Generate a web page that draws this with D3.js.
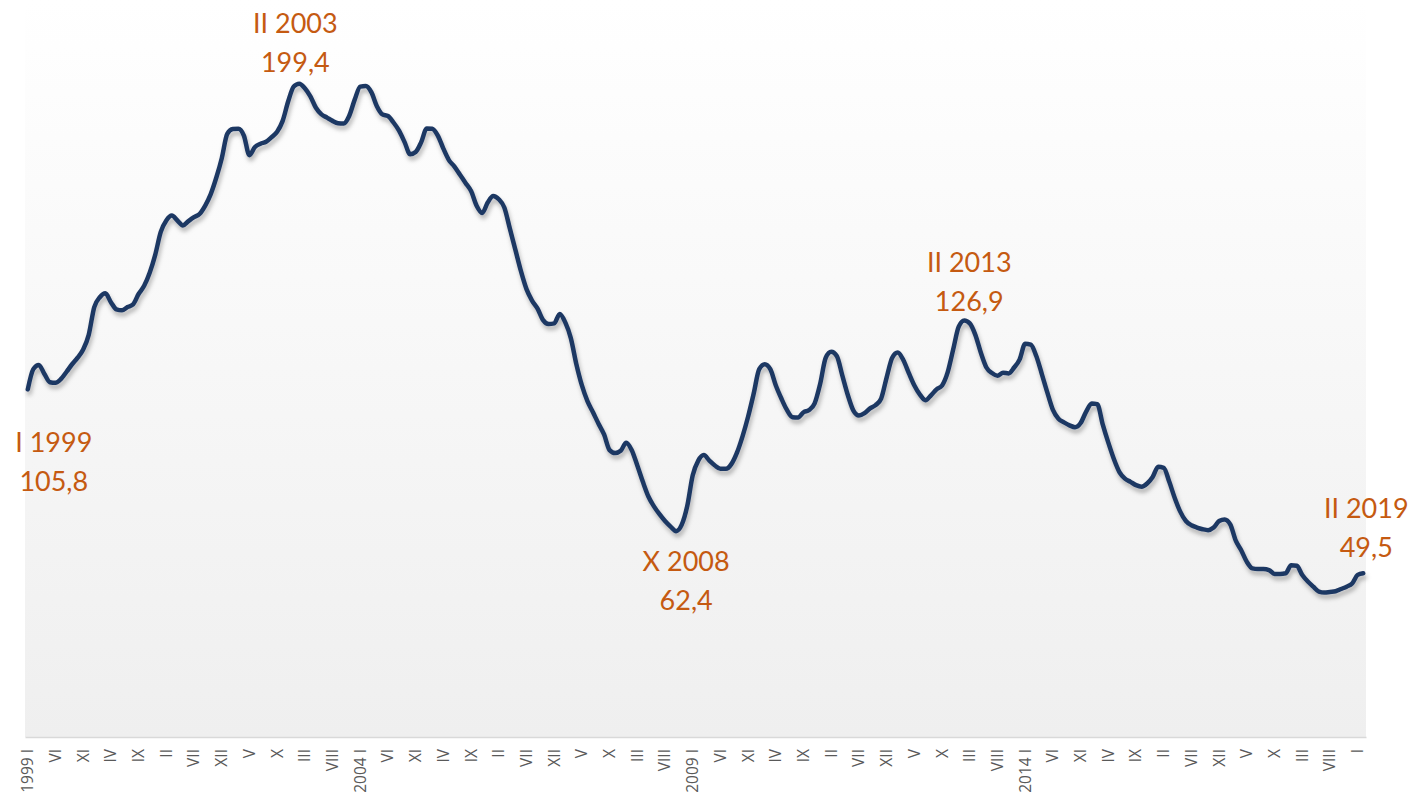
<!DOCTYPE html>
<html>
<head>
<meta charset="utf-8">
<script src="https://cdn.jsdelivr.net/npm/d3@7"></script>
<style>
  html, body { margin: 0; padding: 0; background: #fff; }
  svg { display: block; }
</style>
</head>
<body>
<svg id="chart" width="1412" height="801"></svg>
<script>
// monthly index, I 1999 .. II 2019
const startYear = 1999;
const monthNames = ['I', 'II', 'III', 'IV', 'V', 'VI', 'VII', 'VIII', 'IX', 'X', 'XI', 'XII'];
// years whose January label carries the year
const labelledYears = [1999, 2004, 2009, 2014];

const values = [
  105.8, 112.0, 113.3, 110.5, 108.0, 107.8, 109.0, 111.2, 113.5, 115.5, 118.0, 122.5,
  131.0, 134.0, 135.2, 132.5, 130.3, 130.0, 131.0, 131.8, 135.0, 137.5, 141.5, 147.0,
  154.0, 157.5, 159.0, 157.5, 156.0, 157.3, 158.5, 159.5, 162.0, 165.5, 170.5, 176.5,
  184.0, 185.5, 185.6, 183.5, 177.5, 180.0, 181.0, 181.6, 183.0, 184.7, 188.0, 194.0,
  198.5, 199.4, 198.0, 195.5, 192.0, 190.0, 189.0, 188.0, 187.3, 187.2, 189.5, 194.5,
  198.5, 198.7, 196.8, 192.5, 190.0, 189.5, 187.5, 185.0, 181.5, 177.8, 178.5, 181.5,
  185.7, 185.6, 183.5, 179.5, 176.0, 174.0, 171.5, 169.0, 166.5, 162.0, 159.8, 163.0,
  165.0, 164.0, 161.5, 155.0, 148.5, 142.0, 136.5, 133.0, 130.5, 127.0, 125.8, 126.0,
  128.9, 126.3, 121.5, 113.5, 107.0, 102.2, 98.8, 95.3, 92.0, 87.2, 86.3, 87.0,
  89.5, 87.2, 82.5, 77.5, 73.0, 70.0, 67.6, 65.5, 63.8, 62.4, 64.3, 70.0,
  79.5, 84.0, 85.7, 84.0, 82.5, 81.5, 81.5, 83.0, 86.5, 91.5, 97.5, 104.5,
  112.0, 113.5, 112.0, 107.0, 103.0, 99.5, 97.3, 97.2, 98.8, 99.5, 101.5, 107.5,
  115.5, 117.3, 116.0, 110.0, 104.0, 99.3, 97.8, 98.5, 100.0, 101.0, 103.0, 109.5,
  115.5, 117.1, 114.8, 110.8, 107.0, 104.2, 102.5, 104.0, 105.8, 107.0, 111.0, 118.0,
  125.0, 126.9, 126.0, 122.5, 117.0, 112.5, 110.8, 110.0, 110.9, 110.7, 112.5, 115.0,
  119.8, 119.5, 116.0, 110.5, 104.8, 99.5, 96.8, 95.7, 94.8, 94.2, 95.5, 99.0,
  101.5, 101.3, 95.0, 89.5, 84.5, 80.5, 78.5, 77.5, 76.5, 76.0, 77.0, 79.0,
  82.1, 81.8, 77.5, 72.5, 68.3, 65.5, 64.2, 63.5, 63.0, 62.7, 63.5, 65.5,
  66.0, 64.5, 59.5, 56.5, 53.0, 51.0, 50.8, 50.8, 50.5, 49.3, 49.3, 49.5,
  52.0, 51.8, 49.0, 47.0, 45.4, 43.9, 43.6, 43.8, 44.0, 44.7, 45.4, 46.4,
  49.0, 49.5
];

// category keys: "year-monthIndex"
const categories = values.map((v, i) => `${startYear + Math.floor(i / 12)}-${i % 12}`);

// every fifth month gets a label
const tickCategories = categories.filter((d, i) => i % 5 === 0);

const annotations = [
  { idx: 0, period: 'I 1999', value: '105,8' },
  { idx: 49, period: 'II 2003', value: '199,4' },
  { idx: 117, period: 'X 2008', value: '62,4' },
  { idx: 169, period: 'II 2013', value: '126,9' },
  { idx: 241, period: 'II 2019', value: '49,5' }
];

const svg = d3.select('#chart');
const plot = { left: 25, right: 1366, top: 0, bottom: 737 };

const x = d3.scaleBand().domain(categories).range([plot.left, plot.right]);
const y = d3.scaleLinear().domain([0, 225]).range([735, 0]);
const cx = (d) => x(d) + x.bandwidth() / 2;

const defs = svg.append('defs');
const grad = defs.append('linearGradient')
  .attr('id', 'bg').attr('x1', 0).attr('y1', 0).attr('x2', 0).attr('y2', 1);
grad.append('stop').attr('offset', '0%').attr('stop-color', '#ffffff');
grad.append('stop').attr('offset', '100%').attr('stop-color', '#efefef');

const shadow = defs.append('filter').attr('id', 'shadow')
  .attr('x', '-5%').attr('y', '-5%').attr('width', '110%').attr('height', '115%');
shadow.append('feDropShadow')
  .attr('dx', 1.5).attr('dy', 4).attr('stdDeviation', 2.2)
  .attr('flood-color', '#000').attr('flood-opacity', 0.28);

svg.append('rect')
  .attr('x', plot.left).attr('y', plot.top)
  .attr('width', plot.right - plot.left).attr('height', plot.bottom - plot.top)
  .attr('fill', 'url(#bg)');

// x axis
const xAxis = d3.axisBottom(x)
  .tickValues(tickCategories)
  .tickSize(0)
  .tickFormat((d) => {
    const [yr, m] = d.split('-').map(Number);
    return m === 0 && labelledYears.includes(yr) ? `${yr} I` : monthNames[m];
  });

const ax = svg.append('g').attr('transform', `translate(0,${plot.bottom})`).call(xAxis);
ax.select('.domain').attr('stroke', '#d9d9d9').attr('stroke-width', 1.5);
ax.selectAll('text')
  .attr('font-family', '"Open Sans", sans-serif')
  .attr('font-size', 15.5)
  .attr('fill', '#595959')
  .attr('text-anchor', 'end')
  .attr('y', 0).attr('x', 0).attr('dy', '0.35em')
  .attr('transform', 'translate(0,12) rotate(-90)');

// line
const line = d3.line()
  .x((d, i) => cx(categories[i]))
  .y((d) => y(d))
  .curve(d3.curveMonotoneX);

svg.append('path')
  .datum(values)
  .attr('fill', 'none')
  .attr('stroke', '#1f3864')
  .attr('stroke-width', 4.5)
  .attr('stroke-linejoin', 'round')
  .attr('stroke-linecap', 'round')
  .attr('filter', 'url(#shadow)')
  .attr('d', line);

// label offsets from the annotated point
const labelOffset = { 0: [26, 63], 49: [-4, -51], 117: [10, 40], 169: [5, -48], 241: [3, -55] };

const notes = svg.selectAll('.note')
  .data(annotations)
  .join('text')
  .attr('class', 'note')
  .attr('font-family', 'Lato, sans-serif')
  .attr('font-size', 27)
  .attr('fill', '#c55a11')
  .attr('text-anchor', 'middle')
  .attr('transform', (d) => {
    const [dx, dy] = labelOffset[d.idx];
    return `translate(${cx(categories[d.idx]) + dx},${y(values[d.idx]) + dy})`;
  });

notes.append('tspan').attr('x', 0).attr('y', 0).text((d) => d.period);
notes.append('tspan').attr('x', 0).attr('y', 39).text((d) => d.value);
</script>
</body>
</html>
